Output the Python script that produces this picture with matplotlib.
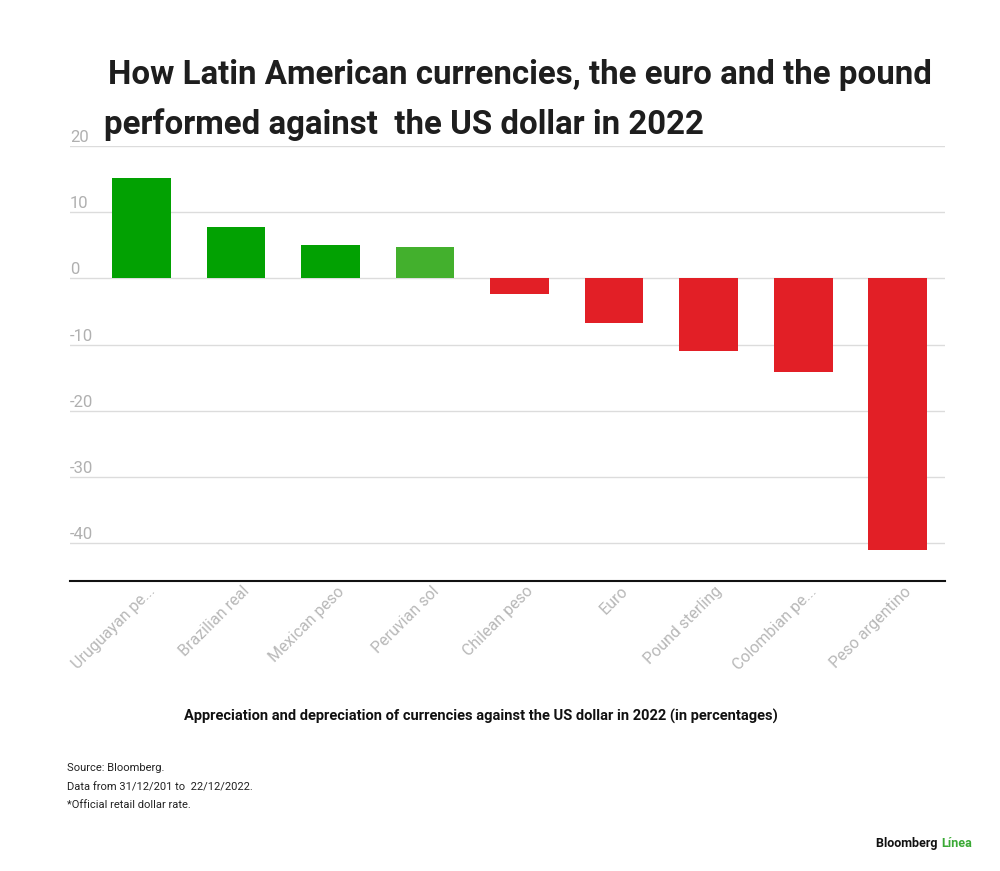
import matplotlib
matplotlib.use("Agg")
import matplotlib.pyplot as plt
from matplotlib.transforms import blended_transform_factory, ScaledTranslation

plt.rcParams['font.family'] = ['Roboto', 'DejaVu Sans']

# data (percent change vs USD, 2022)
currencies = ['Uruguayan pe...', 'Brazilian real', 'Mexican peso', 'Peruvian sol',
              'Chilean peso', 'Euro', 'Pound sterling', 'Colombian pe...', 'Peso argentino']
change = [15.1, 7.8, 5.0, 4.8, -2.4, -6.8, -11.0, -14.2, -41.0]
bar_colors = ['#02a102', '#02a102', '#02a102', '#43b02d',
              '#e21f26', '#e21f26', '#e21f26', '#e21f26', '#e21f26']
yticks = [20, 10, 0, -10, -20, -30, -40]

fig = plt.figure(figsize=(10, 8.71), dpi=100)
ax = fig.add_axes([0.07, 0.333, 0.875, 0.4994])

x = list(range(len(currencies)))
ax.bar(x, change, width=0.62, color=bar_colors, zorder=3)

ax.set_xlim(-0.757, 8.5)
ax.set_ylim(-45.7, 20)

# gridlines with labels sitting on top of them
trans = blended_transform_factory(ax.transAxes, ax.transData)
for t in yticks:
    ax.axhline(t, color='#dcdcdc', lw=1, zorder=1)
    ax.text(0.0, t + 0.15, str(t), transform=trans, ha='left', va='bottom',
            fontsize=12, color='#b0b0b0')

for s in ['top', 'right', 'left']:
    ax.spines[s].set_visible(False)
ax.spines['bottom'].set_color('#111111')
ax.spines['bottom'].set_linewidth(1.5)
ax.set_yticks([])
ax.set_xticks(x)
ax.set_xticklabels(currencies, rotation=45, ha='right', va='top',
                   rotation_mode='anchor', fontsize=11.5, color='#b8b8b8')
ax.tick_params(axis='x', length=0, pad=2)
shift = ScaledTranslation(6 / 100, 0, fig.dpi_scale_trans)
for lbl in ax.get_xticklabels():
    lbl.set_transform(lbl.get_transform() + shift)

# title
fig.text(0.108, 0.914, 'How Latin American currencies, the euro and the pound',
         fontsize=23.8, fontweight='bold', color='#1e1e1e', ha='left', va='center')
fig.text(0.104, 0.857, 'performed against  the US dollar in 2022',
         fontsize=23.8, fontweight='bold', color='#1e1e1e', ha='left', va='center')

fig.text(0.481, 0.177, 'Appreciation and depreciation of currencies against the US dollar in 2022 (in percentages)',
         fontsize=10.5, fontweight='bold', color='#111111', ha='center', va='center')

fig.text(0.067, 0.118, 'Source: Bloomberg.', fontsize=8, color='#222222', va='center')
fig.text(0.067, 0.096, 'Data from 31/12/201 to  22/12/2022.', fontsize=8, color='#222222', va='center')
fig.text(0.067, 0.076, '*Official retail dollar rate.', fontsize=8, color='#222222', va='center')

fig.text(0.941, 0.032, 'Bloomberg ', fontsize=9, fontweight='bold', color='#111111',
         ha='right', va='center')
fig.text(0.941, 0.032, 'Línea', fontsize=9, fontweight='bold', color='#3aa935',
         ha='left', va='center')

fig.savefig('out.png', dpi=100, facecolor='white')
